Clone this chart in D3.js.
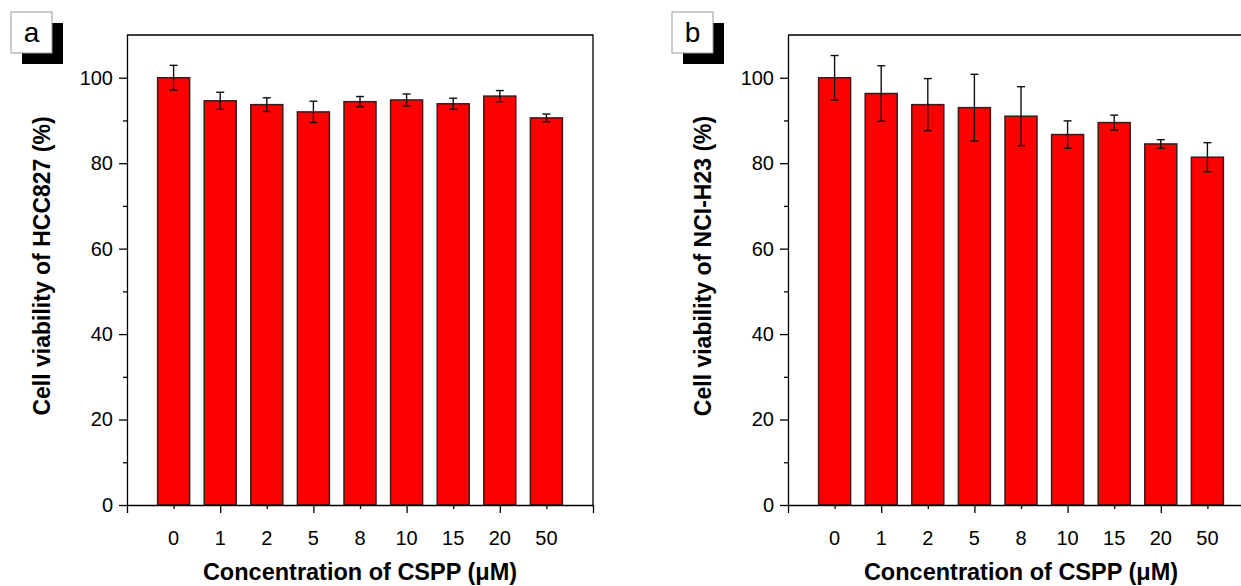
<!DOCTYPE html>
<html>
<head>
<meta charset="utf-8">
<script src="https://cdn.jsdelivr.net/npm/d3@7"></script>
<style>
  body { margin: 0; background: #fff; }
  svg { display: block; }
  text { font-family: "Liberation Sans", Arial, sans-serif; }
</style>
</head>
<body>
<svg id="chart" width="1241" height="586"></svg>
<script>
// concentrations of CSPP (uM)
var concentrations = ["0", "1", "2", "5", "8", "10", "15", "20", "50"];

// panel a : HCC827
var hccMean = [100, 94.6, 93.7, 92.0, 94.4, 94.8, 93.9, 95.7, 90.6];
var hccErr  = [2.9, 2.0, 1.6, 2.5, 1.2, 1.4, 1.3, 1.3, 0.9];

// panel b : NCI-H23
var h23Mean = [100, 96.3, 93.7, 93.0, 91.0, 86.7, 89.5, 84.5, 81.4];
var h23Err  = [5.2, 6.5, 6.1, 7.8, 6.9, 3.2, 1.75, 1.0, 3.4];

var yTicks = [0, 20, 40, 60, 80, 100];
var yMinor = [10, 30, 50, 70, 90];

var svg = d3.select("#chart");

function drawPanel(ox, letter, yTitle, means, errs) {
    var left = ox, right = ox + 466, top = 35, bottom = 505;
    var g = svg.append("g");

    var x = d3.scaleLinear().domain([0, 10]).range([left, right]);
    var y = d3.scaleLinear().domain([0, 110]).range([bottom, top]);
    var bw = 32;

    // bars
    g.selectAll("rect.bar")
        .data(means)
        .enter().append("rect")
        .attr("class", "bar")
        .attr("x", (d, i) => x(i + 1) - bw / 2)
        .attr("y", d => y(d))
        .attr("width", bw)
        .attr("height", d => y(0) - y(d))
        .attr("fill", "#ff0000")
        .attr("stroke", "#3a1a1a")
        .attr("stroke-width", 1.5);

    // error bars
    var eb = g.selectAll("g.err")
        .data(means)
        .enter().append("g")
        .attr("class", "err")
        .attr("stroke", "#111")
        .attr("stroke-width", 1.4);
    eb.append("line")
        .attr("x1", (d, i) => x(i + 1)).attr("x2", (d, i) => x(i + 1))
        .attr("y1", (d, i) => y(d + errs[i])).attr("y2", (d, i) => y(d - errs[i]));
    eb.append("line")
        .attr("x1", (d, i) => x(i + 1) - 4).attr("x2", (d, i) => x(i + 1) + 4)
        .attr("y1", (d, i) => y(d + errs[i])).attr("y2", (d, i) => y(d + errs[i]));
    eb.append("line")
        .attr("x1", (d, i) => x(i + 1) - 4).attr("x2", (d, i) => x(i + 1) + 4)
        .attr("y1", (d, i) => y(d - errs[i])).attr("y2", (d, i) => y(d - errs[i]));

    // frame top + right
    g.append("path")
        .attr("d", `M${left},${top}H${right}V${bottom}`)
        .attr("fill", "none").attr("stroke", "#000").attr("stroke-width", 1.3);

    // y axis
    var ya = g.append("g").attr("transform", `translate(${left},0)`)
        .call(d3.axisLeft(y).tickValues(yTicks).tickSize(8).tickPadding(6).tickSizeOuter(0));
    g.append("g").attr("transform", `translate(${left},0)`)
        .call(d3.axisLeft(y).tickValues(yMinor).tickSize(4).tickFormat("").tickSizeOuter(0))
        .select(".domain").remove();
    ya.selectAll("text").attr("font-size", 20).attr("fill", "#000")
        .style("font-family", "Liberation Sans, Arial, sans-serif");
    ya.select(".domain").attr("d", `M0.5,${top}V${bottom}`);

    // x axis
    g.append("g").attr("transform", `translate(0,${bottom})`)
        .call(d3.axisBottom(x).tickValues([0, 2, 4, 6, 8, 10]).tickSize(8).tickFormat("").tickSizeOuter(0));
    g.append("g").attr("transform", `translate(0,${bottom})`)
        .call(d3.axisBottom(x).tickValues([1, 3, 5, 7, 9]).tickSize(4).tickFormat("").tickSizeOuter(0))
        .select(".domain").remove();
    g.selectAll(".tick line, .domain").attr("stroke", "#000").attr("stroke-width", 1.3);

    g.selectAll("text.xlab")
        .data(concentrations)
        .enter().append("text")
        .attr("class", "xlab")
        .attr("x", (d, i) => x(i + 1))
        .attr("y", 545)
        .attr("text-anchor", "middle")
        .attr("font-size", 20)
        .text(d => d);

    // axis titles
    g.append("text")
        .attr("x", (left + right) / 2).attr("y", 580)
        .attr("text-anchor", "middle")
        .attr("font-size", 23.5).attr("font-weight", "bold")
        .text("Concentration of CSPP (\u03BCM)");
    g.append("text")
        .attr("transform", `translate(${ox - 77},${(top + bottom) / 2 - 4}) rotate(-90)`)
        .attr("text-anchor", "middle")
        .attr("font-size", 23).attr("font-weight", "bold")
        .text(yTitle);

    // panel letter box with shadow
    var bx = ox - 116, by = 12;
    g.append("rect").attr("x", bx + 11).attr("y", by + 11).attr("width", 41).attr("height", 41).attr("fill", "#000");
    g.append("rect").attr("x", bx).attr("y", by).attr("width", 41).attr("height", 41)
        .attr("fill", "#fff").attr("stroke", "#999").attr("stroke-width", 1);
    g.append("text").attr("x", bx + 20.5).attr("y", by + 30)
        .attr("text-anchor", "middle").attr("font-size", 28).text(letter);
}

drawPanel(127, "a", "Cell viability of HCC827 (%)", hccMean, hccErr);
drawPanel(788, "b", "Cell viability of NCI-H23 (%)", h23Mean, h23Err);
</script>
</body>
</html>
